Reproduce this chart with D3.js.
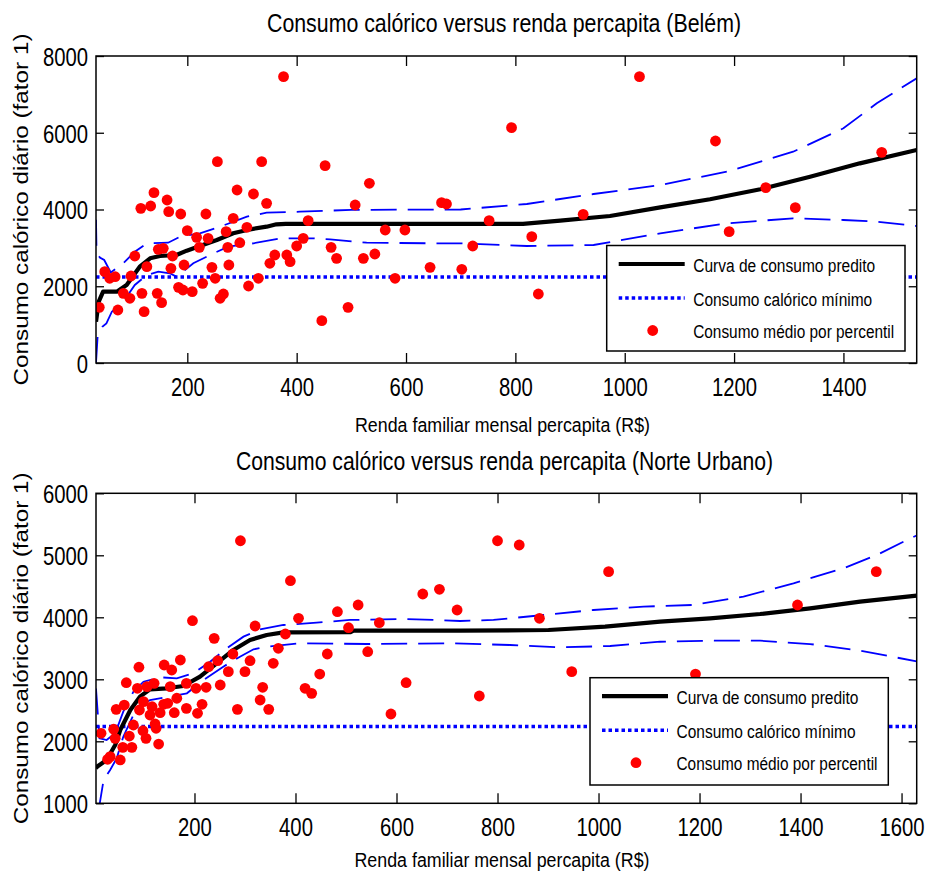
<!DOCTYPE html>
<html><head><meta charset="utf-8">
<script src="https://cdn.jsdelivr.net/npm/d3@7"></script>
<style>body{margin:0;background:#fff}svg{display:block}</style>
</head><body><svg id="c" width="928" height="877"></svg>
<script>
// ---------- DATA ----------
const belemTitle = "Consumo calórico versus renda percapita (Belém)";
const norteTitle = "Consumo calórico versus renda percapita (Norte Urbano)";
const xLabel = "Renda familiar mensal percapita (R$)";
const yLabel = "Consumo calórico diário (fator 1)";
const legendLabels = ["Curva de consumo predito", "Consumo calórico mínimo", "Consumo médio por percentil"];

const belemXTicks = [200, 400, 600, 800, 1000, 1200, 1400];
const belemYTicks = [0, 2000, 4000, 6000, 8000];
const norteXTicks = [200, 400, 600, 800, 1000, 1200, 1400, 1600];
const norteYTicks = [1000, 2000, 3000, 4000, 5000, 6000];

const minimumIntake = 2240;

const belemCurve = [[33,1076],[38,1600],[46,1858],[71,1858],[89,2033],[113,2510],[132,2728],[150,2788],[180,2814],[199,2927],[223,3049],[254,3205],[284,3380],[315,3484],[345,3552],[363,3614],[380,3625],[814,3625],[882,3708],[973,3831],[1065,4057],[1156,4266],[1248,4526],[1339,4855],[1430,5203],[1534,5550]];
const belemUpper = [[33,3730],[34,2900],[40,2750],[48,2684],[60,2360],[83,2598],[104,2900],[126,3119],[165,3135],[187,3292],[223,3380],[260,3552],[309,3813],[345,3917],[406,3943],[500,3990],[700,4000],[821,4143],[943,4404],[1065,4638],[1187,4985],[1308,5506],[1400,6116],[1461,6767],[1534,7420]];
const belemLower = [[33,0],[36,700],[45,950],[52,1034],[62,1337],[83,1598],[104,2033],[126,2293],[147,2380],[168,2337],[180,2249],[185,2300],[211,2598],[248,2858],[275,3031],[321,3119],[370,3249],[430,3249],[461,3223],[528,3135],[650,3119],[699,3119],[821,3049],[943,3075],[1065,3380],[1187,3640],[1308,3770],[1400,3727],[1461,3683],[1534,3570]];
const belemPoints = [[39,1451],[49,2380],[58,2207],[68,2249],[73,1381],[83,1816],[95,1686],[97,2267],[104,2788],[115,4031],[117,1816],[121,1337],[126,2510],[133,4091],[139,4438],[145,1816],[147,2962],[153,1572],[156,2988],[163,4248],[166,3943],[170,2467],[173,2788],[184,1972],[188,3883],[192,1902],[194,2554],[200,3448],[209,1859],[217,3275],[222,3014],[228,2076],[234,3883],[238,3249],[245,2493],[251,2207],[255,5247],[260,1686],[266,1798],[271,3422],[274,3014],[276,2554],[284,3770],[291,4508],[296,3135],[309,3536],[312,2007],[321,4404],[330,2207],[336,5247],[345,4161],[351,2598],[360,2814],[376,7461],[382,2814],[388,2641],[400,3049],[412,3249],[421,3709],[446,1103],[452,5142],[463,3014],[473,2728],[494,1451],[507,4117],[522,2728],[533,4683],[543,2840],[562,3466],[580,2207],[598,3466],[644,2493],[665,4178],[674,4143],[702,2442],[722,3049],[752,3709],[793,6133],[830,3292],[842,1798],[924,3874],[1027,7461],[1166,5785],[1191,3422],[1258,4569],[1312,4048],[1470,5490]];

const norteCurve = [[5,1560],[7,1590],[26,1698],[43,1940],[53,2182],[73,2505],[92,2720],[112,2839],[145,2855],[178,2892],[211,3042],[244,3258],[277,3473],[310,3634],[343,3715],[376,3758],[509,3760],[515,3784],[726,3784],[901,3795],[1013,3849],[1122,3929],[1221,3984],[1320,4053],[1419,4145],[1518,4252],[1630,4350]];
const norteUpper = [[5,2850],[12,2050],[26,2021],[43,2129],[59,2478],[79,2800],[99,2961],[132,3032],[165,3016],[198,3097],[231,3284],[264,3500],[297,3688],[330,3806],[376,3876],[442,3913],[508,3957],[607,3973],[673,3957],[726,3940],[792,3957],[891,4037],[990,4118],[1089,4172],[1188,4199],[1287,4333],[1386,4548],[1485,4790],[1551,5005],[1611,5247],[1630,5320]];
const norteLower = [[11,900],[13,1026],[20,1376],[33,1537],[46,1726],[59,2074],[79,2424],[92,2558],[112,2666],[158,2731],[185,2774],[218,2989],[257,3204],[290,3365],[317,3484],[343,3526],[409,3581],[541,3569],[707,3581],[825,3553],[924,3516],[1023,3537],[1122,3606],[1221,3623],[1320,3623],[1419,3569],[1518,3461],[1630,3290]];
const nortePoints = [[15,2129],[28,1710],[33,1752],[40,2194],[43,2048],[45,2516],[53,1699],[58,1903],[61,2585],[65,2945],[71,2085],[76,1903],[79,2263],[87,2855],[90,3195],[91,2505],[98,2171],[99,2639],[104,2048],[106,2881],[112,2424],[116,2558],[120,2935],[122,2279],[124,2210],[129,1956],[132,2461],[139,2597],[140,3231],[147,2613],[152,2881],[155,3150],[160,2461],[165,2694],[172,3311],[184,2532],[184,2935],[196,3945],[203,2855],[206,2452],[215,2597],[223,2871],[228,3203],[239,3661],[246,3300],[251,2908],[267,3123],[276,3408],[285,2516],[291,5235],[300,3123],[310,3300],[320,3860],[330,2666],[335,2871],[347,2516],[356,3258],[366,3500],[380,3731],[390,4590],[406,3984],[419,2855],[432,2774],[448,3085],[463,3408],[483,4090],[505,3832],[524,4198],[543,3445],[566,3913],[589,2440],[619,2945],[652,4376],[685,4452],[720,4118],[764,2731],[800,5235],[843,5166],[883,3984],[947,3123],[1020,4736],[1192,3085],[1394,4198],[1550,4736]];

// ---------- DRAWING ----------
const FONT = "'Liberation Sans', Arial, Helvetica, sans-serif";
const TICK_SX = 0.78;
const svg = d3.select("#c");
svg.append("rect").attr("width", 928).attr("height", 877).attr("fill", "#fff");

function label(g, x, y, str, size, len, anchor, rot) {
  const t = g.append("text")
    .attr("font-family", FONT).attr("font-size", size).attr("fill", "#000")
    .attr("text-anchor", anchor || "start")
    .attr("textLength", len).attr("lengthAdjust", "spacingAndGlyphs")
    .text(str);
  if (rot) t.attr("transform", `translate(${x},${y}) rotate(${rot})`);
  else t.attr("x", x).attr("y", y);
  return t;
}

function panel(cfg, idx) {
  const x = d3.scaleLinear().domain(cfg.xDomain).range([cfg.left, cfg.right]);
  const y = d3.scaleLinear().domain(cfg.yDomain).range([cfg.bottom, cfg.top]);
  const g = svg.append("g");
  const clipId = "clip" + idx;
  svg.append("clipPath").attr("id", clipId).append("rect")
    .attr("x", cfg.left).attr("y", cfg.top)
    .attr("width", cfg.right - cfg.left).attr("height", cfg.bottom - cfg.top);
  const plot = g.append("g").attr("clip-path", `url(#${clipId})`);
  const line = d3.line().x(d => x(d[0])).y(d => y(d[1]));

  plot.append("path").datum([[cfg.xDomain[0], minimumIntake], [cfg.xDomain[1], minimumIntake]])
    .attr("d", line).attr("fill", "none").attr("stroke", "#0000ff")
    .attr("stroke-width", 3.5).attr("stroke-dasharray", "3.5 3");
  [cfg.upper, cfg.lower].forEach(band => {
    plot.append("path").datum(band).attr("d", line).attr("fill", "none")
      .attr("stroke", "#0000ff").attr("stroke-width", 1.8).attr("stroke-dasharray", "26 11");
  });
  plot.append("path").datum(cfg.curve).attr("d", line).attr("fill", "none")
    .attr("stroke", "#000").attr("stroke-width", 4.2).attr("stroke-linejoin", "round");
  plot.selectAll("circle.pt").data(cfg.points).join("circle").attr("class", "pt")
    .attr("cx", d => x(d[0])).attr("cy", d => y(d[1])).attr("r", 5.4).attr("fill", "#ff0000");

  const axB = g.append("g").attr("transform", `translate(0,${cfg.bottom})`)
    .call(d3.axisBottom(x).tickValues(cfg.xTicks).tickSize(-10).tickSizeOuter(0).tickFormat(d3.format("d")));
  const axT = g.append("g").attr("transform", `translate(0,${cfg.top})`)
    .call(d3.axisTop(x).tickValues(cfg.xTicks).tickSize(-10).tickSizeOuter(0).tickFormat(""));
  const axL = g.append("g").attr("transform", `translate(${cfg.left},0)`)
    .call(d3.axisLeft(y).tickValues(cfg.yTicks).tickSize(-8).tickSizeOuter(0).tickFormat(d3.format("d")));
  const axR = g.append("g").attr("transform", `translate(${cfg.right},0)`)
    .call(d3.axisRight(y).tickValues(cfg.yTicks).tickSize(-8).tickSizeOuter(0).tickFormat(""));
  [axB, axT, axL, axR].forEach(a => {
    a.select(".domain").remove();
    a.selectAll(".tick line").attr("stroke", "#000").attr("stroke-width", 1.3);
  });
  axB.selectAll(".tick text")
    .attr("font-family", FONT).attr("font-size", 26).attr("fill", "#000")
    .attr("x", 0).attr("y", 33).attr("dy", null)
    .attr("transform", `scale(${TICK_SX},1)`);
  axL.selectAll(".tick text")
    .attr("font-family", FONT).attr("font-size", 26).attr("fill", "#000")
    .attr("x", -8 / TICK_SX).attr("dy", "0.36em")
    .attr("transform", `scale(${TICK_SX},1)`);

  g.append("rect").attr("x", cfg.left).attr("y", cfg.top)
    .attr("width", cfg.right - cfg.left).attr("height", cfg.bottom - cfg.top)
    .attr("fill", "none").attr("stroke", "#000").attr("stroke-width", 1.5);

  label(g, cfg.titleX, cfg.titleY, cfg.title, 26, cfg.titleW, "middle");
  label(g, cfg.xlabX, cfg.xlabY, xLabel, 20, 295, "middle");
  label(g, 28, (cfg.top + cfg.bottom) / 2, yLabel, 21, 352, "middle", -90);

  const L = cfg.legend;
  const lg = g.append("g").attr("transform", `translate(${L.x},${L.y})`);
  lg.append("rect").attr("width", L.w).attr("height", L.h)
    .attr("fill", "#fff").attr("stroke", "#000").attr("stroke-width", 1.5);
  const rows = [18.5, 52.5, 85];
  lg.append("line").attr("x1", 12).attr("x2", 78).attr("y1", rows[0]).attr("y2", rows[0])
    .attr("stroke", "#000").attr("stroke-width", 4.2);
  lg.append("line").attr("x1", 12).attr("x2", 78).attr("y1", rows[1]).attr("y2", rows[1])
    .attr("stroke", "#0000ff").attr("stroke-width", 3.5).attr("stroke-dasharray", "3.5 3");
  lg.append("circle").attr("cx", 46).attr("cy", rows[2]).attr("r", 5.4).attr("fill", "#ff0000");
  const widths = [182, 179, 201];
  legendLabels.forEach((s, i) => label(lg, 86.5, rows[i] + 7.5, s, 18, widths[i], "start"));
}

panel({
  left: 96, right: 916.7, top: 56, bottom: 363,
  xDomain: [33, 1534], yDomain: [0, 8000],
  xTicks: belemXTicks, yTicks: belemYTicks,
  curve: belemCurve, upper: belemUpper, lower: belemLower, points: belemPoints,
  title: belemTitle, titleX: 504, titleY: 32, titleW: 474,
  xlabX: 502.5, xlabY: 432,
  legend: { x: 606.7, y: 245.5, w: 298.3, h: 105.5 }
}, 0);

panel({
  left: 96, right: 916.7, top: 493.3, bottom: 803.3,
  xDomain: [5, 1630], yDomain: [1000, 6000],
  xTicks: norteXTicks, yTicks: norteYTicks,
  curve: norteCurve, upper: norteUpper, lower: norteLower, points: nortePoints,
  title: norteTitle, titleX: 504.5, titleY: 470, titleW: 537,
  xlabX: 502, xlabY: 867,
  legend: { x: 590, y: 677.7, w: 298.3, h: 107.3 }
}, 1);
</script></body></html>
